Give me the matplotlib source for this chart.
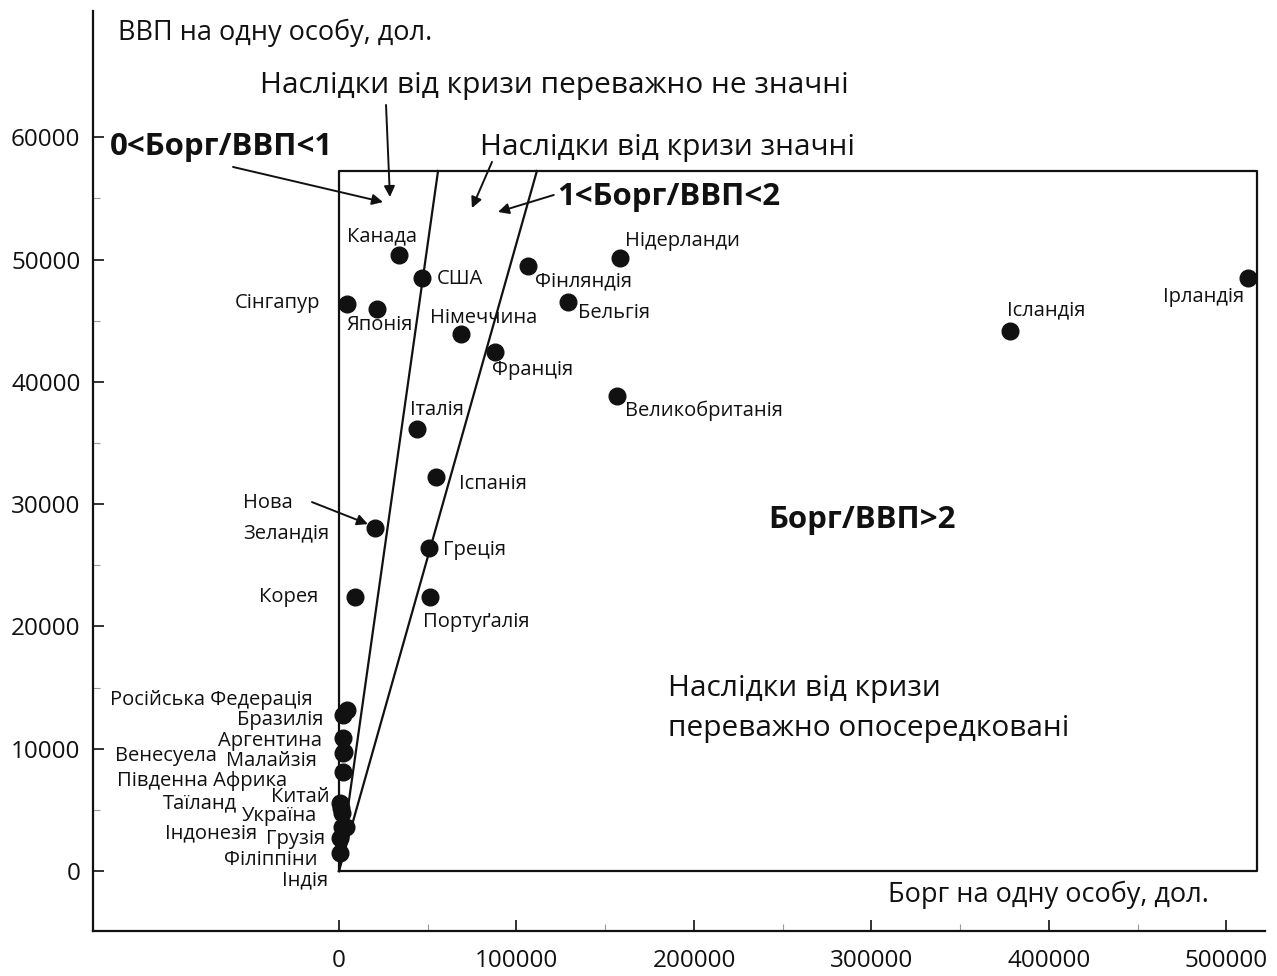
import matplotlib.pyplot as plt

plt.rcParams['font.family'] = ['Open Sans', 'DejaVu Sans']

# країни: борг на одну особу (дол.), ВВП на одну особу (дол.)
countries = ['Канада', 'США', 'Сінгапур', 'Японія', 'Німеччина', 'Фінляндія',
             'Нідерланди', 'Бельгія', 'Франція', 'Великобританія', 'Ісландія',
             'Ірландія', 'Італія', 'Іспанія', 'Нова Зеландія', 'Греція', 'Корея',
             'Портуґалія', 'Російська Федерація', 'Бразилія', 'Аргентина',
             'Венесуела', 'Малайзія', 'Південна Африка', 'Китай', 'Таїланд',
             'Україна', 'Індонезія', 'Грузія', 'Філіппіни', 'Індія']
debt = [33800, 46800, 4500, 21400, 68700, 106500,
        158300, 129000, 87900, 156600, 378000,
        512100, 43900, 54600, 20300, 50700, 9000,
        51300, 4500, 2250, 2250,
        2800, 2250, 2250, 560, 1100,
        1700, 1700, 3900, 560, 560]
gdp = [50370, 48490, 46360, 45950, 43910, 49470,
       50120, 46530, 42440, 38840, 44160,
       48490, 36140, 32220, 28050, 26410, 22400,
       22400, 13170, 12760, 10880,
       9730, 9650, 8100, 5560, 5150,
       4740, 3600, 3600, 2700, 1470]

# зсув підпису від точки (пікселі) і вирівнювання
label_dx = [-52, 15, -27, -30, -31, 7,
            5, 10, -3, 8, -3,
            -4, -7, 23, None, 14, -37,
            -7, -34, -20, -21,
            -127, -26, -56, -10, -104,
            -25, -85, -21, -22, -12]
label_dy = [19, -1, 1, -16, 16, -15,
            17, -11, -18, -15, 21,
            -19, 19, -7, None, -2, 0,
            -25, 10, -5, -3,
            -4, -8, -9, 6, 5,
            -3, -6, -12, -22, -27]
label_ha = ['left', 'left', 'right', 'left', 'left', 'left',
            'left', 'left', 'left', 'left', 'left',
            'right', 'left', 'left', None, 'left', 'right',
            'left', 'right', 'right', 'right',
            'right', 'right', 'right', 'right', 'right',
            'right', 'right', 'right', 'right', 'right']

# межі областей
box_x = [0, 517000]
box_y = [0, 57240]
line1_top = 55800   # Борг/ВВП = 1
line2_top = 111500  # Борг/ВВП = 2

ink = '#111111'

fig = plt.figure(figsize=(12.77, 9.76), dpi=100)
ax = fig.add_axes([0.0728, 0.0461, 0.9178, 0.9426])
ax.set_xlim(-138600, 521700)
ax.set_ylim(-4900, 70320)

for s in ['top', 'right']:
    ax.spines[s].set_visible(False)
for s in ['left', 'bottom']:
    ax.spines[s].set_linewidth(1.6)
    ax.spines[s].set_color(ink)

ax.set_xticks([0, 100000, 200000, 300000, 400000, 500000])
ax.set_xticks([50000, 150000, 250000, 350000, 450000], minor=True)
ax.set_yticks(range(0, 60001, 10000))
ax.set_yticks(range(5000, 60000, 10000), minor=True)
ax.tick_params(axis='both', which='major', direction='in', length=8, width=1.2,
               labelsize=17.5, colors=ink)
ax.tick_params(axis='both', which='minor', direction='in', length=5, width=0.8,
               color='#999999')
ax.tick_params(axis='x', which='major', pad=13)
ax.tick_params(axis='y', which='major', pad=9)

# рамка та лінії Борг/ВВП
ax.plot([box_x[0], box_x[1], box_x[1], box_x[0], box_x[0]],
        [box_y[0], box_y[0], box_y[1], box_y[1], box_y[0]], color=ink, lw=1.6)
ax.plot([0, line1_top], [0, box_y[1]], color=ink, lw=1.6)
ax.plot([0, line2_top], [0, box_y[1]], color=ink, lw=1.6)

ax.plot(debt, gdp, 'o', ms=12, color=ink, zorder=5)

for i, name in enumerate(countries):
    if label_dx[i] is None:
        continue
    ax.annotate(name, (debt[i], gdp[i]), xytext=(label_dx[i], label_dy[i]),
                textcoords='offset pixels', ha=label_ha[i], va='center',
                fontsize=14.5, color=ink)

# Нова Зеландія зі стрілкою
ax.text(-53800, 30080, 'Нова', fontsize=14.5, va='center', ha='left', color=ink)
ax.text(-53800, 27630, 'Зеландія', fontsize=14.5, va='center', ha='left', color=ink)
arrow = dict(arrowstyle='-|>', mutation_scale=16, lw=1.4, color=ink,
             shrinkA=0, shrinkB=0)
ax.annotate('', xy=(16300, 28370), xytext=(-15200, 30170), arrowprops=arrow)

# підписи осей і областей
ax.text(-124500, 68520, 'ВВП на одну особу, дол.', fontsize=19.5, va='center', color=ink)
ax.text(309300, -1960, 'Борг на одну особу, дол.', fontsize=19.5, va='center', color=ink)
ax.text(-44500, 64270, 'Наслідки від кризи переважно не значні', fontsize=21.5,
        va='center', color=ink)
ax.text(79400, 59200, 'Наслідки від кризи значні', fontsize=21.5, va='center', color=ink)
ax.text(-129000, 59200, '0<Борг/ВВП<1', fontsize=22.5, fontweight='bold', va='center',
        color=ink)
ax.text(122800, 55110, '1<Борг/ВВП<2', fontsize=22.5, fontweight='bold', va='center',
        color=ink)
ax.text(241700, 28700, 'Борг/ВВП>2', fontsize=22.5, fontweight='bold', va='center',
        color=ink)
ax.text(185400, 14960, 'Наслідки від кризи', fontsize=21.5, va='center', color=ink)
ax.text(185400, 11690, 'переважно опосередковані', fontsize=21.5, va='center', color=ink)

ax.annotate('', xy=(24800, 54700), xytext=(-59700, 57570), arrowprops=arrow)
ax.annotate('', xy=(28700, 55110), xytext=(26500, 62640), arrowprops=arrow)
ax.annotate('', xy=(74900, 54210), xytext=(86200, 57980), arrowprops=arrow)
ax.annotate('', xy=(89600, 53890), xytext=(121000, 55280), arrowprops=arrow)

fig.savefig('out.png', dpi=100, facecolor='white')
